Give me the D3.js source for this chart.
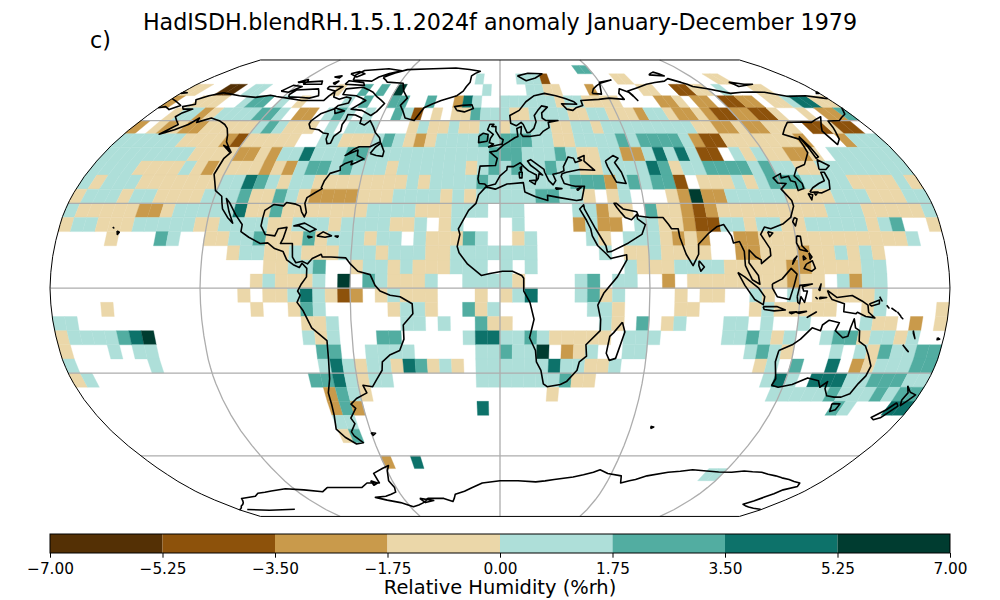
<![CDATA[<!DOCTYPE html>
<html><head><meta charset="utf-8">
<script src="https://cdn.jsdelivr.net/npm/d3@7"></script>
<style>html,body{margin:0;background:#fff}svg{display:block}text{font-family:"DejaVu Sans";fill:#000}</style>
</head><body><svg id="c" width="1000" height="600"></svg>
<script>
const titleText = "HadISDH.blendRH.1.5.1.2024f anomaly January-December 1979";
const panelText = "c)";
const barLabel = "Relative Humidity (%rh)";
const tickValues = [-7,-5.25,-3.5,-1.75,0,1.75,3.5,5.25,7];
const binColours = ["#543005","#8d520b","#c99a4b","#ebd7a9","#aedfd9","#52ada1","#0d726a","#003c30"];
const levelLetters = "abcdefgh";
const levelValues = [-6.1,-4.4,-2.6,-0.9,0.9,2.6,4.4,6.1];
// Robinson table, every 5 degrees of latitude
const robLat = [0,5,10,15,20,25,30,35,40,45,50,55,60,65,70,75,80,85,90];
const robLen = [1,.9986,.9954,.99,.9822,.973,.96,.9427,.9216,.8962,.8679,.835,.7986,.7597,.7186,.6732,.6213,.5722,.5322];
const robDfe = [0,.062,.124,.186,.248,.31,.372,.434,.4958,.5571,.6176,.6769,.7346,.7903,.8435,.8936,.9394,.9761,1];
// top latitude of each 5-degree band
const rowLats = [85,80,75,70,65,60,55,50,45,40,35,30,25,20,15,10,5,0,-5,-10,-15,-20,-25,-30,-35,-40,-45,-50,-60,-65];
// per band: [first column (0 = 180W), anomaly bins a..h]
const rowRuns = [
[[46,'ff']],
[[33,'e'],[38,'eeeb'],[50,'dd'],[62,'dd']],
[[0,'dd'],[4,'aa'],[7,'ee'],[17,'d'],[20,'f'],[22,'f'],[24,'h'],[34,'e'],[39,'eedd'],[46,'c'],[52,'dd'],[56,'bbdd'],[61,'e'],[65,'dd']],
[[0,'c'],[3,'ddd'],[8,'eff'],[12,'e'],[14,'d'],[19,'e'],[21,'f'],[24,'ff'],[28,'f'],[31,'cge'],[36,'eeeeeedeedddd'],[53,'ccd'],[57,'cc'],[60,'bbcc'],[65,'ddeggdd']],
[[2,'deecdeeeeffe'],[15,'cc'],[18,'ef'],[20,'e'],[22,'e'],[25,'feb'],[29,'d'],[31,'ddfee'],[36,'eddeeeeddeedddceedcc'],[56,'d'],[57,'cbbccbbd'],[67,'d'],[69,'ccf']],
[[0,'c'],[2,'dcdcc'],[7,'dddddefe'],[15,'ddd'],[19,'e'],[21,'eee'],[27,'deddeddee'],[36,'deeeeddeed'],[46,'eeeeeeeee'],[55,'ddccdccddd'],[66,'bbdbb']],
[[0,'eeeeee'],[6,'ddd'],[9,'d'],[10,'cb'],[12,'ddddd'],[19,'ee'],[21,'dddefedcd'],[30,'eeeefe'],[36,'fffeeddeeeefeffffecbb'],[57,'dddddddc'],[68,'ceee']],
[[0,'eeeeeeeeddddcc'],[14,'dc'],[16,'eegeee'],[22,'ff'],[24,'eeeeeeeeeeef'],[36,'ffeeefeddeeccegegebb'],[57,'ededdccd'],[66,'eeeeee']],
[[0,'eeeeddddedcddddcdce'],[19,'ffefeeedeeeeeedef'],[36,'efeefeeddeeeegfdeeffffefeeddeeeeeeee']],
[[0,'edeeedddddddeegfedee'],[20,'ddddddddedeeeefe'],[36,'eeeeeefffcefeffb'],[53,'dddedefffeeeedddded']],
[[0,'deeedeedddd'],[11,'eeefddfed'],[20,'ccccdddeeeededee'],[36,'eeeffeed'],[45,'de'],[50,'dchcc'],[55,'eeeeeddddeeedddee']],
[[0,'edddddccd'],[9,'eeeeegddf'],[18,'dddddddeeeedddeee'],[36,'ee'],[42,'eecdd'],[48,'fddcbc'],[54,'ddddddddd'],[63,'eeeddddde']],
[[0,'deedddeeeeeddeeee'],[17,'ddeeedeeeedde'],[31,'de'],[37,'e'],[42,'cecc'],[47,'eeddcbb'],[54,'eedeeddeeeeedef'],[71,'d']],
[[4,'d'],[8,'fe'],[12,'ddeefddd'],[20,'fdeeedee'],[29,'edddfe'],[37,'de'],[43,'ed'],[46,'eeedcdc'],[55,'ccdddddddddddde']],
[[14,'deeddedddeeedeeeddeeee'],[36,'eee'],[44,'e'],[46,'ddedddd'],[55,'ccdddcddeded']],
[[17,'ddeef'],[24,'deededddeee'],[36,'e'],[38,'e'],[46,'eddd'],[50,'eeee'],[54,'dddddccddddee']],
[[16,'deddde'],[23,'h'],[25,'feddde'],[33,'eee'],[36,'ed'],[42,'ef'],[45,'ee'],[49,'c'],[51,'ddddddddcdd'],[63,'ecee']],
[[15,'d'],[17,'ddegedbc'],[26,'deddd'],[34,'d'],[36,'deg'],[42,'efde'],[50,'d'],[52,'dd'],[56,'ed'],[59,'e'],[61,'ddddde']],
[[4,'d'],[16,'d'],[19,'dfe'],[27,'deed'],[33,'fde'],[43,'eed'],[50,'dd'],[56,'deddddd'],[65,'de'],[71,'d']],
[[0,'ee'],[20,'dde'],[28,'ee'],[31,'e'],[34,'fdd'],[44,'ed'],[47,'f'],[49,'de'],[54,'ee'],[57,'e'],[60,'e'],[65,'edd'],[69,'c'],[71,'d']],
[[0,'deeeefgh'],[20,'ede'],[26,'ff'],[33,'eggeefeddddd'],[46,'eee'],[54,'eefede'],[62,'effdeede']],
[[0,'d'],[4,'e'],[6,'ee'],[21,'ff'],[25,'eeee'],[34,'eefeeh'],[41,'cde'],[46,'ee'],[56,'efed'],[63,'e'],[65,'edfeeff']],
[[0,'e'],[7,'e'],[21,'egedeedgfded'],[34,'eeeeeegeedde'],[57,'de'],[60,'f'],[63,'g'],[65,'cdeeeff']],
[[0,'de'],[20,'ffgedee'],[34,'eeeeeeefdd'],[58,'ege'],[62,'gggeefffee']],
[[21,'cfed'],[40,'d'],[59,'eeeeefeeefeff']],
[[21,'cfc'],[34,'g'],[65,'fe'],[70,'gg']],
[[21,'ee']],
[[21,'df']],
[[24,'c'],[27,'g']],
[[58,'ee']]
];
// coastlines, [lon,lat]
const coastNorthAmerica = [[-156.5,71.3],[-152,70.8],[-145,70],[-141,69.7],[-135,69.3],[-128,70.2],[-124,69.7],[-115,68.8],[-108,68],[-100,68],[-96,68],[-94,71.8],[-92,69.5],[-88,68.5],[-85,69.5],[-82,69],[-81.5,67],[-86,66],[-87,64.5],[-92,62.8],[-94.5,60],[-94.5,58.7],[-92.5,57],[-88,56.5],[-85,55.3],[-82.3,55],[-82,53],[-80.5,51.3],[-79,51.5],[-79,54],[-77,56],[-78,58.5],[-77.5,60.5],[-78,62.4],[-74,62.2],[-70,61],[-69.5,59],[-67,58.3],[-65,60],[-62,57.5],[-60,55.5],[-57,53.5],[-56,52],[-60,50.2],[-65,50.2],[-67,49.3],[-70,47],[-65,49],[-64.5,47],[-61,45.8],[-64,44.5],[-66,43.7],[-66,45],[-69,44],[-70.5,43],[-70,41.7],[-74,40.6],[-75.5,38],[-76,35.5],[-75.5,35.2],[-78,33.8],[-81,32],[-81.3,30],[-80,26.8],[-80.5,25.2],[-82,27],[-83,29],[-85,29.7],[-89,30.3],[-90,29.1],[-94,29.6],[-97.3,27.5],[-97.7,22],[-95.5,19],[-91.5,18.5],[-90.5,21],[-87,21.5],[-88,17.5],[-88.8,15.8],[-84,15.8],[-83.5,11],[-82,9],[-79.5,9.5],[-77.3,8.6],[-75.5,10.5],[-72,12],[-71.5,11],[-68,11],[-62,10.7],[-60,8.5],[-57,6],[-52,4.8],[-50,1],[-48,-1],[-44,-2.5],[-40,-3],[-35.2,-5.5],[-35,-9],[-39,-13],[-39,-18],[-41,-22],[-45,-23.5],[-48.5,-26],[-49,-29],[-52,-32.5],[-54,-34.8],[-58,-34.3],[-57,-37],[-62,-39],[-65,-41],[-63.5,-42.5],[-67,-46],[-66,-48],[-69,-51],[-68.5,-52.5],[-65.5,-55],[-69,-55.5],[-73,-53],[-75.5,-50],[-74,-45],[-73.5,-41],[-73.5,-37],[-71.5,-32],[-70.5,-25],[-70.3,-18.5],[-76,-14],[-79,-8],[-81.3,-5],[-80,-2.5],[-81,-1],[-79.5,1.5],[-77.5,4],[-77.5,7],[-79.5,8.8],[-80.5,7.3],[-83,8.3],[-85.7,10],[-87.5,13],[-91,14],[-94,16],[-97,15.8],[-102,18],[-105.5,20],[-105.5,22.5],[-109,26],[-112.5,30],[-114.7,31.7],[-112,27],[-109.5,23],[-112,25],[-115,28],[-117,32.5],[-120.5,34.5],[-122.5,37.7],[-124.3,40.3],[-124,46],[-122.5,48.2],[-125,50],[-128,52],[-130,54.5],[-133,57],[-136,58.5],[-140,59.8],[-146,61],[-151,59.3],[-152,61],[-154,58.5],[-158,56.5],[-163,54.8],[-159,58.5],[-162,60],[-165,61.5],[-164,63],[-161,64.5],[-166,64.5],[-168,65.5],[-163,66.5],[-166,68.3],[-162,70],[-156.5,71.3]];
const coastEurAsiaAfrica = [[-9,37],[-9.5,38.7],[-8.8,43.2],[-2,43.4],[-1.2,46],[-4.7,48.3],[-1.5,48.7],[1.5,50.8],[4,52],[7,53.5],[8.5,54],[8.2,57],[10.5,57.7],[10,55],[11,54],[14,54],[19,54.5],[21,56],[24,57.3],[24,59.3],[29,60],[23,60],[21.3,61],[21.5,63],[25,65.3],[22,65.8],[17.5,62],[18,59.5],[16.5,57],[14.3,55.5],[13,55.4],[11.5,58.5],[10.5,59.3],[8,58],[5.3,59],[5,62],[10,64],[14,67.5],[19,70],[25,71],[31,70],[40,67.5],[41,66.5],[33,66.7],[35,64.5],[38,64],[40,65],[44,66],[44,68],[54,68.5],[60,69],[68,68.5],[67,71],[69,73],[73,71.5],[75,68],[73,72],[80,73.5],[87,75],[100,76.5],[104,77.7],[113,74],[120,73],[130,71],[137,71.5],[150,71.5],[160,69.7],[170,70],[178,69],[180,68.8]];
const coastChukotkaWest = [[-180,68.8],[-175,67.5],[-170,66],[-173,64.3],[-177,65.5],[-180,65]];
const coastAsiaAfrica = [[180,65],[177,62.5],[170,60],[164,59.8],[163,57.5],[162,56],[160,53],[156.8,51],[155.7,56],[158,58],[163,61.5],[155,59.3],[143,59.3],[135.3,54.8],[141,53],[140,48],[135,43.8],[130.5,42.5],[127.5,39.7],[129.4,37],[129,35.2],[126.3,34.5],[126.7,37.5],[125,38],[125,39.6],[121.5,39],[122,40.5],[118,39],[119,37.2],[122.5,37],[119.3,35],[122,31],[122,29],[119.5,25],[116,22.8],[110.5,21],[108,21.6],[106,19],[109,14],[109,11.5],[105,8.7],[105,10],[103,11],[100.5,13.5],[100,9],[103.5,4.5],[104,1.4],[101,3],[98.5,8],[98.5,13],[97,16.5],[94.5,16],[94,18.5],[91.5,22.5],[88.5,21.7],[85,19.5],[80.3,15.5],[80,12],[77.5,8],[75,12],[73,18],[72.7,21],[70,21],[69,22.5],[67,25],[61.5,25],[57,25.5],[56.5,27],[51,28],[48.5,30],[47.5,30],[48.5,28.5],[50,26.7],[51.5,25],[54,24.2],[56.3,26],[56.5,24.5],[59.5,22.5],[57.7,19],[52,16],[45,13],[43.3,12.8],[42.8,15],[39,21],[35,28],[34.8,29.5],[33,28],[35.5,24],[37,21],[37.5,18.5],[39.5,15],[43,12],[44.5,10.5],[51,11.8],[51,10],[47,4],[41.5,-1.8],[39.2,-6],[40.5,-11],[40.5,-15],[35,-20],[35.5,-24],[32.7,-26],[32,-29],[28,-33],[25.5,-34],[20,-34.8],[18.3,-33.8],[17,-29],[15,-26],[14.5,-22],[12,-17.5],[13.7,-11],[12,-5],[9.5,-1],[9.5,3.5],[8.7,4.5],[5,6],[1,6],[-4,5.2],[-7.5,4.5],[-13,8.5],[-16.5,12.5],[-17.3,14.7],[-16.3,19],[-17,21],[-13,27.5],[-10,30],[-9,33],[-6,35.8],[-2,35],[3,36.8],[10,37.3],[10.5,34],[15,32.3],[20,31],[20,32.8],[25,32],[32,31],[34.3,31.3],[36,36],[32,36],[30.5,36.3],[27.5,37],[26.5,39.5],[27,40.5],[29,41],[35,42],[41.5,41.7],[37.5,45],[38,47],[35,46],[36.5,45.3],[33.5,44.5],[33,46],[30.7,46.5],[28,43],[28,41.5],[26,40.8],[23,40.3],[24,38],[22.7,36.5],[21,38],[19.5,41],[19.3,42],[13.7,45.5],[12.3,45],[13.5,43.5],[16,41.9],[18.5,40],[17,40.5],[16.5,38.8],[15.7,38],[15.8,40],[12.5,41.5],[10.5,43],[9,44.4],[6,43],[3.2,43],[3,41.8],[0,39.7],[-2,36.8],[-5.5,36],[-6.5,36.8],[-9,37]];
const coastAustralia = [[114,-22],[113.5,-26],[115.7,-32],[115,-34.3],[118,-35],[123.5,-34],[129,-31.7],[134,-32.7],[135.7,-35],[138,-33],[138.2,-35.5],[140.5,-38],[144,-38.5],[147,-38.5],[150,-37.3],[151.3,-33.7],[153,-31],[153.5,-27.5],[151,-23.5],[149,-20.5],[146,-18.8],[145.3,-15],[143.5,-14],[142.5,-10.8],[141.5,-14],[141,-17],[139,-17.5],[135.5,-15],[136.7,-12.2],[132.5,-11.3],[130,-13],[129.5,-15],[126,-14],[122,-18],[119,-20],[114,-22]];
const coastAntarctica = [[-180,-84.3],[-172,-82],[-161,-78],[-150,-77],[-145,-75.5],[-135,-74.5],[-125,-73.5],[-115,-74],[-105,-74.8],[-100,-73],[-90,-73],[-80,-73],[-75,-71],[-68,-71],[-68,-67],[-62,-65],[-58,-63.8],[-60,-66],[-62,-70],[-61,-73],[-62,-75],[-70,-77],[-77,-77.5],[-64,-80],[-58,-82.5],[-45,-78],[-35,-78],[-30,-79.5],[-27,-76],[-16,-73],[-10,-71],[0,-70],[10,-70],[20,-70.5],[30,-69.5],[40,-68.5],[50,-66.5],[53,-65.5],[58,-67],[66,-68],[68,-71],[72,-70],[75,-69.5],[80,-68],[90,-66.5],[102,-65.5],[110,-66],[124,-66.5],[130,-66],[140,-66.5],[150,-68],[160,-69.5],[169,-71],[171,-72.5],[166,-74],[163,-77.5],[159,-81],[178.8,-84],[180,-84.3]];
const coastRoss = [[-174,-84.1],[-160,-84.6],[-141,-84]];
const coastIslands = [
[[-73,78.2],[-68,80.5],[-62,82.5],[-45,83],[-30,83.5],[-13,81.5],[-18,79],[-18,76],[-21,72],[-24,70],[-32,68],[-40,65],[-43,60],[-48,61],[-53,66],[-51,69],[-55,72],[-58,75.5],[-68,76],[-73,78.2]],
[[-80,73.7],[-72,71.5],[-68,69.5],[-62,66.8],[-64,63.5],[-66,62],[-72,64],[-78,64.5],[-73,68],[-80,70],[-88,70.5],[-89,73],[-80,73.7]],
[[-117,69.5],[-105,69],[-101,70],[-105,73],[-117,72.5],[-118,70.5],[-117,69.5]],
[[-90,77],[-78,76.5],[-76,78.5],[-65,81.8],[-75,83],[-90,82],[-92,79.5],[-90,77]],
[[-125,72],[-120,71.5],[-116,74],[-122,74.5],[-125,72]],
[[-92,75],[-80,74.5],[-82,75.8],[-92,76.7],[-92,75]],
[[-117,75],[-106,75],[-108,76.5],[-117,76],[-117,75]],
[[-100,73],[-94,72],[-92,74],[-100,74],[-100,73]],
[[-96,80],[-90,78.5],[-87,80],[-92,81.3],[-96,80]],
[[-104,78.5],[-100,78],[-100,79],[-104,78.5]],
[[-122,76],[-116,76],[-118,77.3],[-122,76]],
[[-100,75.5],[-98,75],[-98,76.5],[-100,75.5]],
[[-87,65],[-81,63.8],[-85,62.8],[-87,65]],
[[-59,47.7],[-56,47],[-53,46.7],[-53,48.5],[-55.5,51.5],[-57.5,50],[-59,47.7]],
[[-84.5,22],[-80,23],[-75,20.8],[-77.5,19.9],[-82,22],[-84.5,22]],
[[-74.4,18.5],[-72,19.9],[-68.5,18.5],[-71,18],[-74.4,18.5]],
[[-78.3,18.4],[-76.3,18.1],[-77.5,17.8],[-78.3,18.4]],
[[-67.2,18.4],[-65.7,18.4],[-66,18],[-67.2,18.4]],
[[-156,20.2],[-155,19.8],[-155.6,19],[-156,20.2]],
[[-158.2,21.6],[-157.7,21.3],[-158.2,21.6]],
[[-125.5,50],[-123.5,48.4],[-128,50.7],[-125.5,50]],
[[-5.5,50],[1,51.2],[1.5,52.8],[0,53.5],[-2,56],[-2,57.7],[-4,57.8],[-3,58.6],[-5,58.6],[-6,56.5],[-3.2,54.8],[-4.5,53.3],[-5,51.7],[-3,51.2],[-5.5,50]],
[[-6,52.2],[-10,51.7],[-10,54],[-8,55.2],[-5.7,54.7],[-6,52.2]],
[[-22.5,64],[-18.5,63.4],[-14,64.7],[-15,66.3],[-20,66],[-24,65.5],[-22.5,64]],
[[11,79],[16,76.7],[22,78],[27,80],[18,80.3],[11,79]],
[[52,71],[57,70.7],[60,76],[68,77],[60,75.5],[54,73],[52,71]],
[[95,79.5],[104,79],[100,81],[95,79.5]],
[[138,76],[145,75],[150,75],[140,74],[138,76]],
[[-180,71],[-177,71.3],[-180,71.6]],[[178,71],[180,71],[180,71.6],[178,71]],
[[142,54],[143,50],[143.5,46.5],[142,46],[142,50],[142,54]],
[[140,42],[142,45.5],[145.5,43.3],[143,42],[140,42]],
[[131,34],[136,33.7],[140,35],[141.5,38],[141.5,41],[140,41],[139.5,38],[136.5,37],[133,35.5],[131,34]],
[[130,33.5],[131.7,33],[130.5,31.2],[130,33.5]],
[[132.5,34],[134.5,34],[133,32.9],[132.5,34]],
[[121,25],[122,24.5],[120.8,22],[120,23.5],[121,25]],
[[109,20],[111,19.5],[109.5,18.2],[109,20]],
[[80,9.7],[82,7.5],[80.5,6],[79.8,8],[80,9.7]],
[[120.5,18.5],[122,18.3],[122,15],[124,13],[121,13.7],[120,16],[120.5,18.5]],
[[123,8.5],[125.5,9.7],[126.5,7],[125,6],[122,7],[123,8.5]],
[[122,11.5],[123,10.5],[122,10],[122,11.5]],[[124.5,12.5],[125.5,11],[124.7,10.2],[124.5,12.5]],[[118,10],[119.5,11.3],[117.5,8.5],[118,10]],
[[109,1.5],[113,3.3],[116.8,7],[119,5],[117.7,1],[116,-4],[111,-3],[109,0],[109,1.5]],
[[95.3,5.6],[98,4],[103.5,0],[106,-3],[105.5,-5.8],[102,-4],[98,1],[95.3,5.6]],
[[105.5,-6.5],[111,-6.5],[114.5,-7.7],[110,-8],[106,-7.5],[105.5,-6.5]],
[[119,-3],[120,1],[125,1.5],[121,0.5],[121.5,-1],[123,-1],[122,-5],[120.5,-3],[120,-5.5],[119.3,-5],[119,-3]],
[[131,-0.8],[135,-3.3],[141,-2.6],[145,-4.5],[147.5,-6],[148,-8.5],[150.7,-10.5],[147,-10],[143.5,-8.5],[143,-9],[138,-8.3],[138,-5.5],[133,-4],[132,-2.8],[131,-0.8]],
[[124,-10],[127,-8.4],[125,-9.5],[123.5,-10.3],[124,-10]],[[119,-8.5],[123,-8.2],[120,-8.9],[119,-8.5]],[[116,-8.5],[119,-8.3],[117,-9],[116,-8.5]],[[127.5,-0.7],[128.5,1.5],[128,-0.8],[127.5,-0.7]],[[128,-3.2],[130.8,-3.3],[128,-3.7],[128,-3.2]],[[126.3,-3.1],[127,-3.7],[126.3,-3.1]],
[[148,-5.6],[152,-4.2],[152,-5.5],[149,-6.3],[148,-5.6]],[[152,-3],[153,-4.5],[152,-3]],[[155,-6],[156,-7],[155,-6]],[[157,-7],[159,-8.2],[157,-7]],[[159.5,-8.3],[161,-9.8],[159.5,-8.3]],[[161,-10],[162,-10.8],[161,-10]],
[[164,-20],[167,-22.4],[166,-21.7],[164,-20]],[[167,-15],[167.3,-16],[168.4,-17.8],[167,-15]],[[177.5,-17.5],[178.5,-18],[177.5,-18.2],[177.5,-17.5]],
[[144.7,-40.8],[148.3,-40.9],[148,-43],[146,-43.6],[145.3,-42],[144.7,-40.8]],
[[172.7,-34.5],[175.5,-36.8],[178.5,-37.7],[177,-39.5],[175.2,-41.5],[174,-39.5],[174.7,-37],[172.7,-34.5]],
[[172.7,-40.5],[174.3,-41.7],[172.7,-43.6],[170.7,-45.9],[168.3,-46.6],[166.5,-45.8],[170.5,-43],[172.7,-40.5]],
[[49.3,-12],[50.5,-15.5],[47.5,-24.8],[45,-25.5],[43.5,-23],[44.5,-17],[46,-15.7],[49.3,-12]],
[[47,45],[51,47],[53,46],[51,44.5],[53,41],[54,37],[50,37.5],[49,39.5],[47.5,43],[47,45]],
[[12.5,38],[15.5,38.2],[15,36.7],[12.5,38]],[[8.3,41],[9.7,41],[9.5,39],[8.5,39],[8.3,41]],[[8.7,42.5],[9.5,43],[9.3,41.5],[8.7,42.5]],[[23.5,35.5],[26.3,35.2],[24,35],[23.5,35.5]],[[32.5,35],[34.5,35.6],[33,34.6],[32.5,35]],
[[-60,-51.3],[-58,-51.5],[-59.5,-52.3],[-60,-51.3]],[[69,-49],[70.5,-49.2],[69.5,-49.7],[69,-49]],
[[-50,-78],[-42,-79],[-48,-80],[-50,-78]],[[-72,-70],[-69,-71],[-72,-72],[-72,-70]]
];
const coastlines = [coastNorthAmerica,coastEurAsiaAfrica,coastChukotkaWest,coastAsiaAfrica,coastAustralia,coastAntarctica,coastRoss,...coastIslands];

const lenAt = d3.scaleLinear().domain(robLat).range(robLen);
const dfeAt = d3.scaleLinear().domain(robLat).range(robDfe);
function robinsonRaw(lam,phi){
  const a=Math.abs(phi)*180/Math.PI;
  return [0.8487*lam*lenAt(a), 1.3523*Math.sign(phi)*dfeAt(a)];
}
const projection = d3.geoProjection(robinsonRaw).scale(168.77).translate([500,288.2]).precision(0.2);
const path = d3.geoPath(projection);
const colour = d3.scaleThreshold().domain(tickValues.slice(1,-1)).range(binColours);
const svg = d3.select("#c");

// cells
const cells=[];
rowLats.forEach((lat,r)=>{
  rowRuns[r].forEach(([start,letters])=>{
    [...letters].forEach((ch,i)=>{
      cells.push({lat,col:start+i,value:levelValues[levelLetters.indexOf(ch)]});
    });
  });
});
const cellLine=d3.line();
svg.append("g").selectAll("path").data(cells).join("path")
  .attr("d",d=>{
    const w=-180+d.col*5,e=w+5,n=d.lat,s=d.lat-5;
    return cellLine([[w,n],[e,n],[e,s],[w,s]].map(p=>projection(p)))+"Z";
  })
  .attr("fill",d=>colour(d.value)).attr("stroke",d=>colour(d.value)).attr("stroke-width",0.35);

// gridlines
const graticule=d3.geoGraticule().extent([[-179.9,-89.9],[180,90]]).step([60,30]).precision(2);
svg.append("path").datum(graticule()).attr("d",path).attr("fill","none").attr("stroke","#adadad").attr("stroke-width",1.3);
// coast
svg.append("path").datum({type:"MultiLineString",coordinates:coastlines}).attr("d",path)
  .attr("fill","none").attr("stroke","#000").attr("stroke-width",1.6).attr("stroke-linejoin","round");
// frame
svg.append("path").datum({type:"Sphere"}).attr("d",path).attr("fill","none").attr("stroke","#000").attr("stroke-width",1);

// titles
svg.append("text").attr("x",500).attr("y",30).attr("text-anchor","middle").attr("font-size",22.2).text(titleText);
svg.append("text").attr("x",90).attr("y",48).attr("font-size",22.2).text(panelText);

// colour bar
const barX=d3.scaleLinear().domain([-7,7]).range([50,950]);
const barTop=534,barH=19;
svg.append("g").selectAll("rect").data(binColours).join("rect")
  .attr("x",(d,i)=>barX(tickValues[i])).attr("width",(d,i)=>barX(tickValues[i+1])-barX(tickValues[i]))
  .attr("y",barTop).attr("height",barH).attr("fill",d=>d);
svg.append("rect").attr("x",50).attr("y",barTop).attr("width",900).attr("height",barH).attr("fill","none").attr("stroke","#000").attr("stroke-width",1);
const axis=d3.axisBottom(barX).tickValues(tickValues).tickSize(4.7).tickSizeOuter(0).tickPadding(5.2)
  .tickFormat(v=>d3.format(".2f")(v).replace("-","\u2212"));
const ag=svg.append("g").attr("transform",`translate(0,${barTop+barH})`).call(axis);
ag.select(".domain").remove();
ag.selectAll("text").attr("font-size",15.3).style("font-family",'"DejaVu Sans"');
svg.append("text").attr("x",500).attr("y",594).attr("text-anchor","middle").attr("font-size",19.45).text(barLabel);
</script></body></html>]]>
